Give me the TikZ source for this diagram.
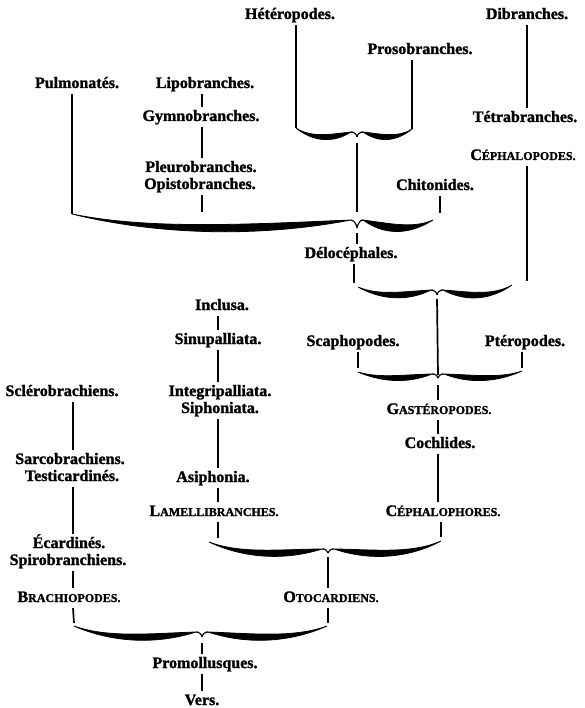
\documentclass[tikz,border=0pt]{standalone}
\usepackage{fontspec}
\setmainfont{Liberation Serif}[BoldFeatures={FakeBold=1.5}]
\newcommand\smc[2]{#1{\fontsize{12pt}{12pt}\bfseries\selectfont #2}}
% one half of a brace: end (#1,#2), near-tip (#3,#4), tip (#5,#6), dip level #7, thickness #8
\newcommand\halfbr[8]{%
  \pgfmathsetmacro\hbL{#3-(#1)}%
  \pgfmathsetmacro\hbA{#1+0.28*\hbL}%
  \pgfmathsetmacro\hbB{#3-0.36*\hbL}%
  \pgfmathsetmacro\hbY{(#7-0.125*(#2+#4))/0.75}%
  \pgfmathsetmacro\hbUa{\hbY-0.25*#8}%
  \pgfmathsetmacro\hbUb{\hbY-1.15*#8}%
  \pgfmathsetmacro\hbDa{\hbY+0.25*#8}%
  \pgfmathsetmacro\hbDb{\hbY+1.15*#8}%
  \pgfmathsetmacro\hbHx{#3+0.6*(#5-(#3))}%
  \pgfmathsetmacro\hbHy{#6-2}%
  \filldraw[brstroke] (#1,#2) .. controls (\hbA,\hbUa) and (\hbB,\hbUb) .. (#3,#4)
     .. controls (\hbB,\hbDb) and (\hbA,\hbDa) .. cycle;
  \draw[brhook] (#3,#4) .. controls (\hbHx,#4) and (#5,\hbHy) .. (#5,#6);
}
% brace: name, left end, tip, right end, thickness, hook height
\newcommand\hbrace[9]{%
  \coordinate (#1l) at (#2,#3);
  \coordinate (#1t) at (#4,#5);
  \coordinate (#1r) at (#6,#7);
  \pgfmathsetmacro\hbNl{#4-6}%
  \pgfmathsetmacro\hbNr{#4+6}%
  \pgfmathsetmacro\hbNy{#5-#9}%
  \halfbr{#2}{#3}{\hbNl}{\hbNy}{#4}{#5}{#5}{#8}
  \halfbr{#6}{#7}{\hbNr}{\hbNy}{#4}{#5}{#5}{#8}
}
\begin{document}
\begin{tikzpicture}[x=1pt,y=-1pt,
  lbl/.style={font=\fontsize{16pt}{18pt}\selectfont\bfseries, inner xsep=0pt, inner ysep=3pt,
     text height=11pt, text depth=3pt},
  ln/.style={line width=1.7pt},
  brstroke/.style={line width=0.8pt},
  brhook/.style={line width=1.1pt}]
\fill[white] (0,0) rectangle (584,708);
\useasboundingbox (0,0) rectangle (584,708);

% column coordinates
\coordinate (cL) at (202,0);
\coordinate (cR) at (527,0);
\coordinate (cC) at (440,0);
\coordinate (cD) at (354,0);
\coordinate (cI) at (218,0);
\coordinate (cS) at (73,0);

% labels
\node[lbl] (het) at (290,15) {Hétéropodes.};
\node[lbl] (pros) at (420,50) {Prosobranches.};
\node[lbl] (dib) at (527,15) {Dibranches.};
\node[lbl] (pulm) at (77,84) {Pulmonatés.};
\node[lbl] (lip) at (205,84) {Lipobranches.};
\node[lbl] (gym) at (201,117) {Gymnobranches.};
\node[lbl] (tetra) at (525,118) {Tétrabranches.};
\node[lbl] (cephalo) at (523,156) {\smc{C}{ÉPHALOPODES.}};
\node[lbl] (pleu) at (201,168) {Pleurobranches.};
\node[lbl] (opis) at (200,185) {Opistobranches.};
\node[lbl] (chit) at (435,186) {Chitonides.};
\node[lbl] (delo) at (351,254) {Délocéphales.};
\node[lbl] (incl) at (222,306) {Inclusa.};
\node[lbl] (sinu) at (218,340) {Sinupalliata.};
\node[lbl] (scaph) at (353,342) {Scaphopodes.};
\node[lbl] (ptero) at (525,342) {Ptéropodes.};
\node[lbl] (sclero) at (62,392) {Sclérobrachiens.};
\node[lbl] (integ) at (220,392) {Integripalliata.};
\node[lbl] (sipho) at (220,409) {Siphoniata.};
\node[lbl] (gast) at (439,410) {\smc{G}{ASTÉROPODES.}};
\node[lbl] (coch) at (440,444) {Cochlides.};
\node[lbl] (sarco) at (70,460) {Sarcobrachiens.};
\node[lbl] (testi) at (72,477) {Testicardinés.};
\node[lbl] (asi) at (213,478) {Asiphonia.};
\node[lbl] (lam) at (214,512) {\smc{L}{AMELLIBRANCHES.}};
\node[lbl] (cephor) at (443,512) {\smc{C}{ÉPHALOPHORES.}};
\node[lbl] (ecard) at (69,544) {Écardinés.};
\node[lbl] (spiro) at (68,561) {Spirobranchiens.};
\node[lbl] (brach) at (69,598) {\smc{B}{RACHIOPODES.}};
\node[lbl] (oto) at (331,598) {\smc{O}{TOCARDIENS.}};
\node[lbl] (promo) at (205,664) {Promollusques.};
\node[lbl] (vers) at (202,701) {Vers.};

% braces
\hbrace{ba}{296}{128}{357}{137}{412}{129}{4.5}{5}
\hbrace{bb}{72}{214}{357}{228}{433}{220}{6.5}{8}
\hbrace{bc}{358}{287}{437}{295}{512}{285}{5}{5}
\hbrace{bd}{358}{372}{438}{378}{522}{371}{4.5}{4}
\hbrace{be}{209}{542}{328}{553}{441}{541}{5.5}{4}
\hbrace{bf}{74}{626}{202}{637}{327}{626}{5.5}{5}

% connectors: top
\draw[ln] (het.south -| bal) -- (bal);
\draw[ln] (pros.south -| bar) -- (bar);
\draw[ln] ([yshift=-6pt]bat) -- ([yshift=16pt]bbt);
\draw[ln] (dib.south -| cR) -- (tetra.north -| cR);
\draw[ln] (pulm.south -| bbl) -- (bbl);
\draw[ln] (lip.south -| cL) -- (gym.north -| cL);
\draw[ln] (gym.south -| cL) -- (pleu.north -| cL);
\draw[ln] (opis.south -| cL) -- ([yshift=2pt]cL |- bbl);
\draw[ln] (chit.south -| cC) -- ([yshift=7pt]cC |- bbr);
\draw[ln] ([yshift=-5pt]bbt) -- (delo.north -| bbt);
\draw[ln] (delo.south -| cD) -- ([yshift=4pt]cD |- bcl);
\draw[ln] (cephalo.south -| cR) -- ([yshift=4pt]cR |- bcr);
% middle
\draw[ln] ([yshift=-4pt]bct) -- ([yshift=3pt]bdt);
\draw[ln] (scaph.south -| bdl) -- ([yshift=4pt]bdl);
\draw[ln] (ptero.south -| bdr) -- ([yshift=3pt]bdr);
\draw[ln] ([yshift=-7pt]bdt) -- (gast.north -| bdt);
\draw[ln] (gast.south -| bdt) -- (coch.north -| bdt);
\draw[ln] (coch.south -| bdt) -- (cephor.north -| bdt);
\draw[ln] (cephor.south -| ber) -- ([yshift=4pt]ber);
\draw[ln] (incl.south -| cI) -- (sinu.north -| cI);
\draw[ln] (sinu.south -| cI) -- (integ.north -| cI);
\draw[ln] (sipho.south -| cI) -- (asi.north -| cI);
\draw[ln] (asi.south -| cI) -- (lam.north -| cI);
\draw[ln] (lam.south -| cI) -- ([yshift=4pt]cI |- bel);
% bottom
\draw[ln] ([yshift=-4pt]bet) -- (oto.north -| bet);
\draw[ln] (oto.south -| bet) -- ([yshift=3pt]bet |- bfr);
\draw[ln] (sclero.south -| cS) -- (sarco.north -| cS);
\draw[ln] (testi.south -| cS) -- (ecard.north -| cS);
\draw[ln] (spiro.south -| cS) -- (brach.north -| cS);
\draw[ln] (brach.south -| cS) -- ([yshift=3pt]bfl);
\draw[ln] ([yshift=-6pt]bft) -- (promo.north -| bft);
\draw[ln] (promo.south -| bft) -- (vers.north -| bft);
\end{tikzpicture}
\end{document}
